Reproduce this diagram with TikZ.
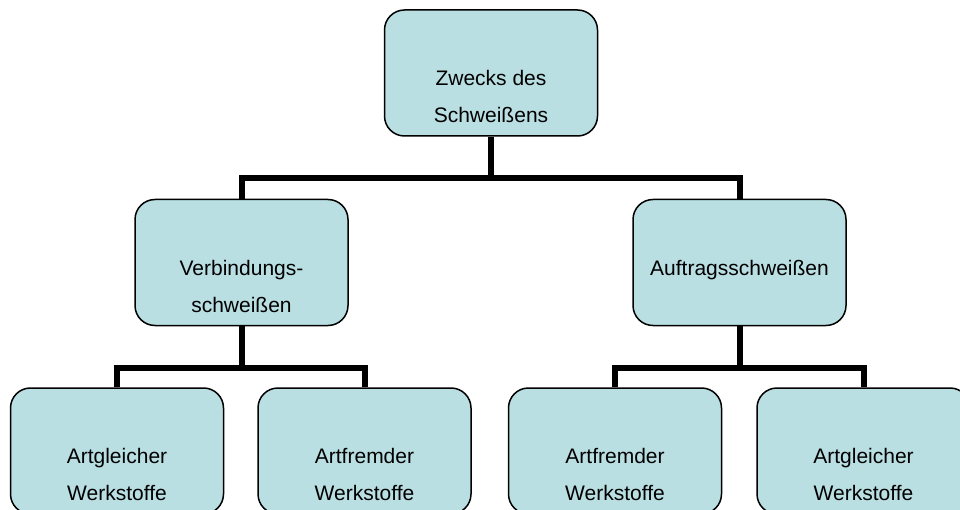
\documentclass[tikz,border=0pt]{standalone}
\usepackage{fontspec}
\setmainfont{Liberation Sans}
\definecolor{boxfill}{HTML}{B9DFE3}
% two centred lines whose baseline is the first line
\newcommand\twoline[2]{\vtop{\baselineskip=37pt\lineskiplimit=-100pt\halign{\hfil##\hfil\cr#1\cr#2\cr}}}
\begin{document}
\begin{tikzpicture}[x=1pt,y=1pt,
  stepbox/.style={draw=black,line width=1.5pt,fill=boxfill,rounded corners=20pt,
    minimum width=213pt,minimum height=126pt,inner sep=0pt},
  txt/.style={anchor=base,inner sep=0pt,font=\fontsize{21}{37}\selectfont},
  conn/.style={draw=black,line width=6pt,line join=miter}]
\clip (0,0) rectangle (960,509);
\fill[white] (0,0) rectangle (960,509);

% boxes
\node[stepbox] (top)  at (491,436)   {};
\node[stepbox] (midL) at (241.5,246.5) {};
\node[stepbox] (midR) at (739.5,246.5) {};
\node[stepbox] (b1) at (117,58)   {};
\node[stepbox] (b2) at (364.5,58) {};
\node[stepbox] (b3) at (615,58)   {};
\node[stepbox] (b4) at (863.5,58) {};

% junction points of the connector bars
\coordinate (j0) at (491,330.5);
\coordinate (jL) at (241.5,141.5);
\coordinate (jR) at (739.5,141.5);

% connectors
\draw[conn] (top.south) -- (j0);
\draw[conn] (midL.north) |- (j0) -| (midR.north);
\draw[conn] (midL.south) -- (jL);
\draw[conn] (b1.north) |- (jL) -| (b2.north);
\draw[conn] (midR.south) -- (jR);
\draw[conn] (b3.north) |- (jR) -| (b4.north);

% labels
\node[txt] (ttop)  at ([yshift=-76.5pt]top.north)  {\twoline{Zwecks des}{Schweißens}};
\node[txt] (tmidL) at ([yshift=-76.5pt]midL.north) {\twoline{Verbindungs-}{schweißen}};
\node[txt] (tmidR) at ([yshift=-76.5pt]midR.north) {Auftragsschweißen};
\node[txt] (tb1) at ([yshift=-76.5pt]b1.north) {\twoline{Artgleicher}{Werkstoffe}};
\node[txt] (tb2) at ([yshift=-76.5pt]b2.north) {\twoline{Artfremder}{Werkstoffe}};
\node[txt] (tb3) at ([yshift=-76.5pt]b3.north) {\twoline{Artfremder}{Werkstoffe}};
\node[txt] (tb4) at ([yshift=-76.5pt]b4.north) {\twoline{Artgleicher}{Werkstoffe}};
\end{tikzpicture}
\end{document}
